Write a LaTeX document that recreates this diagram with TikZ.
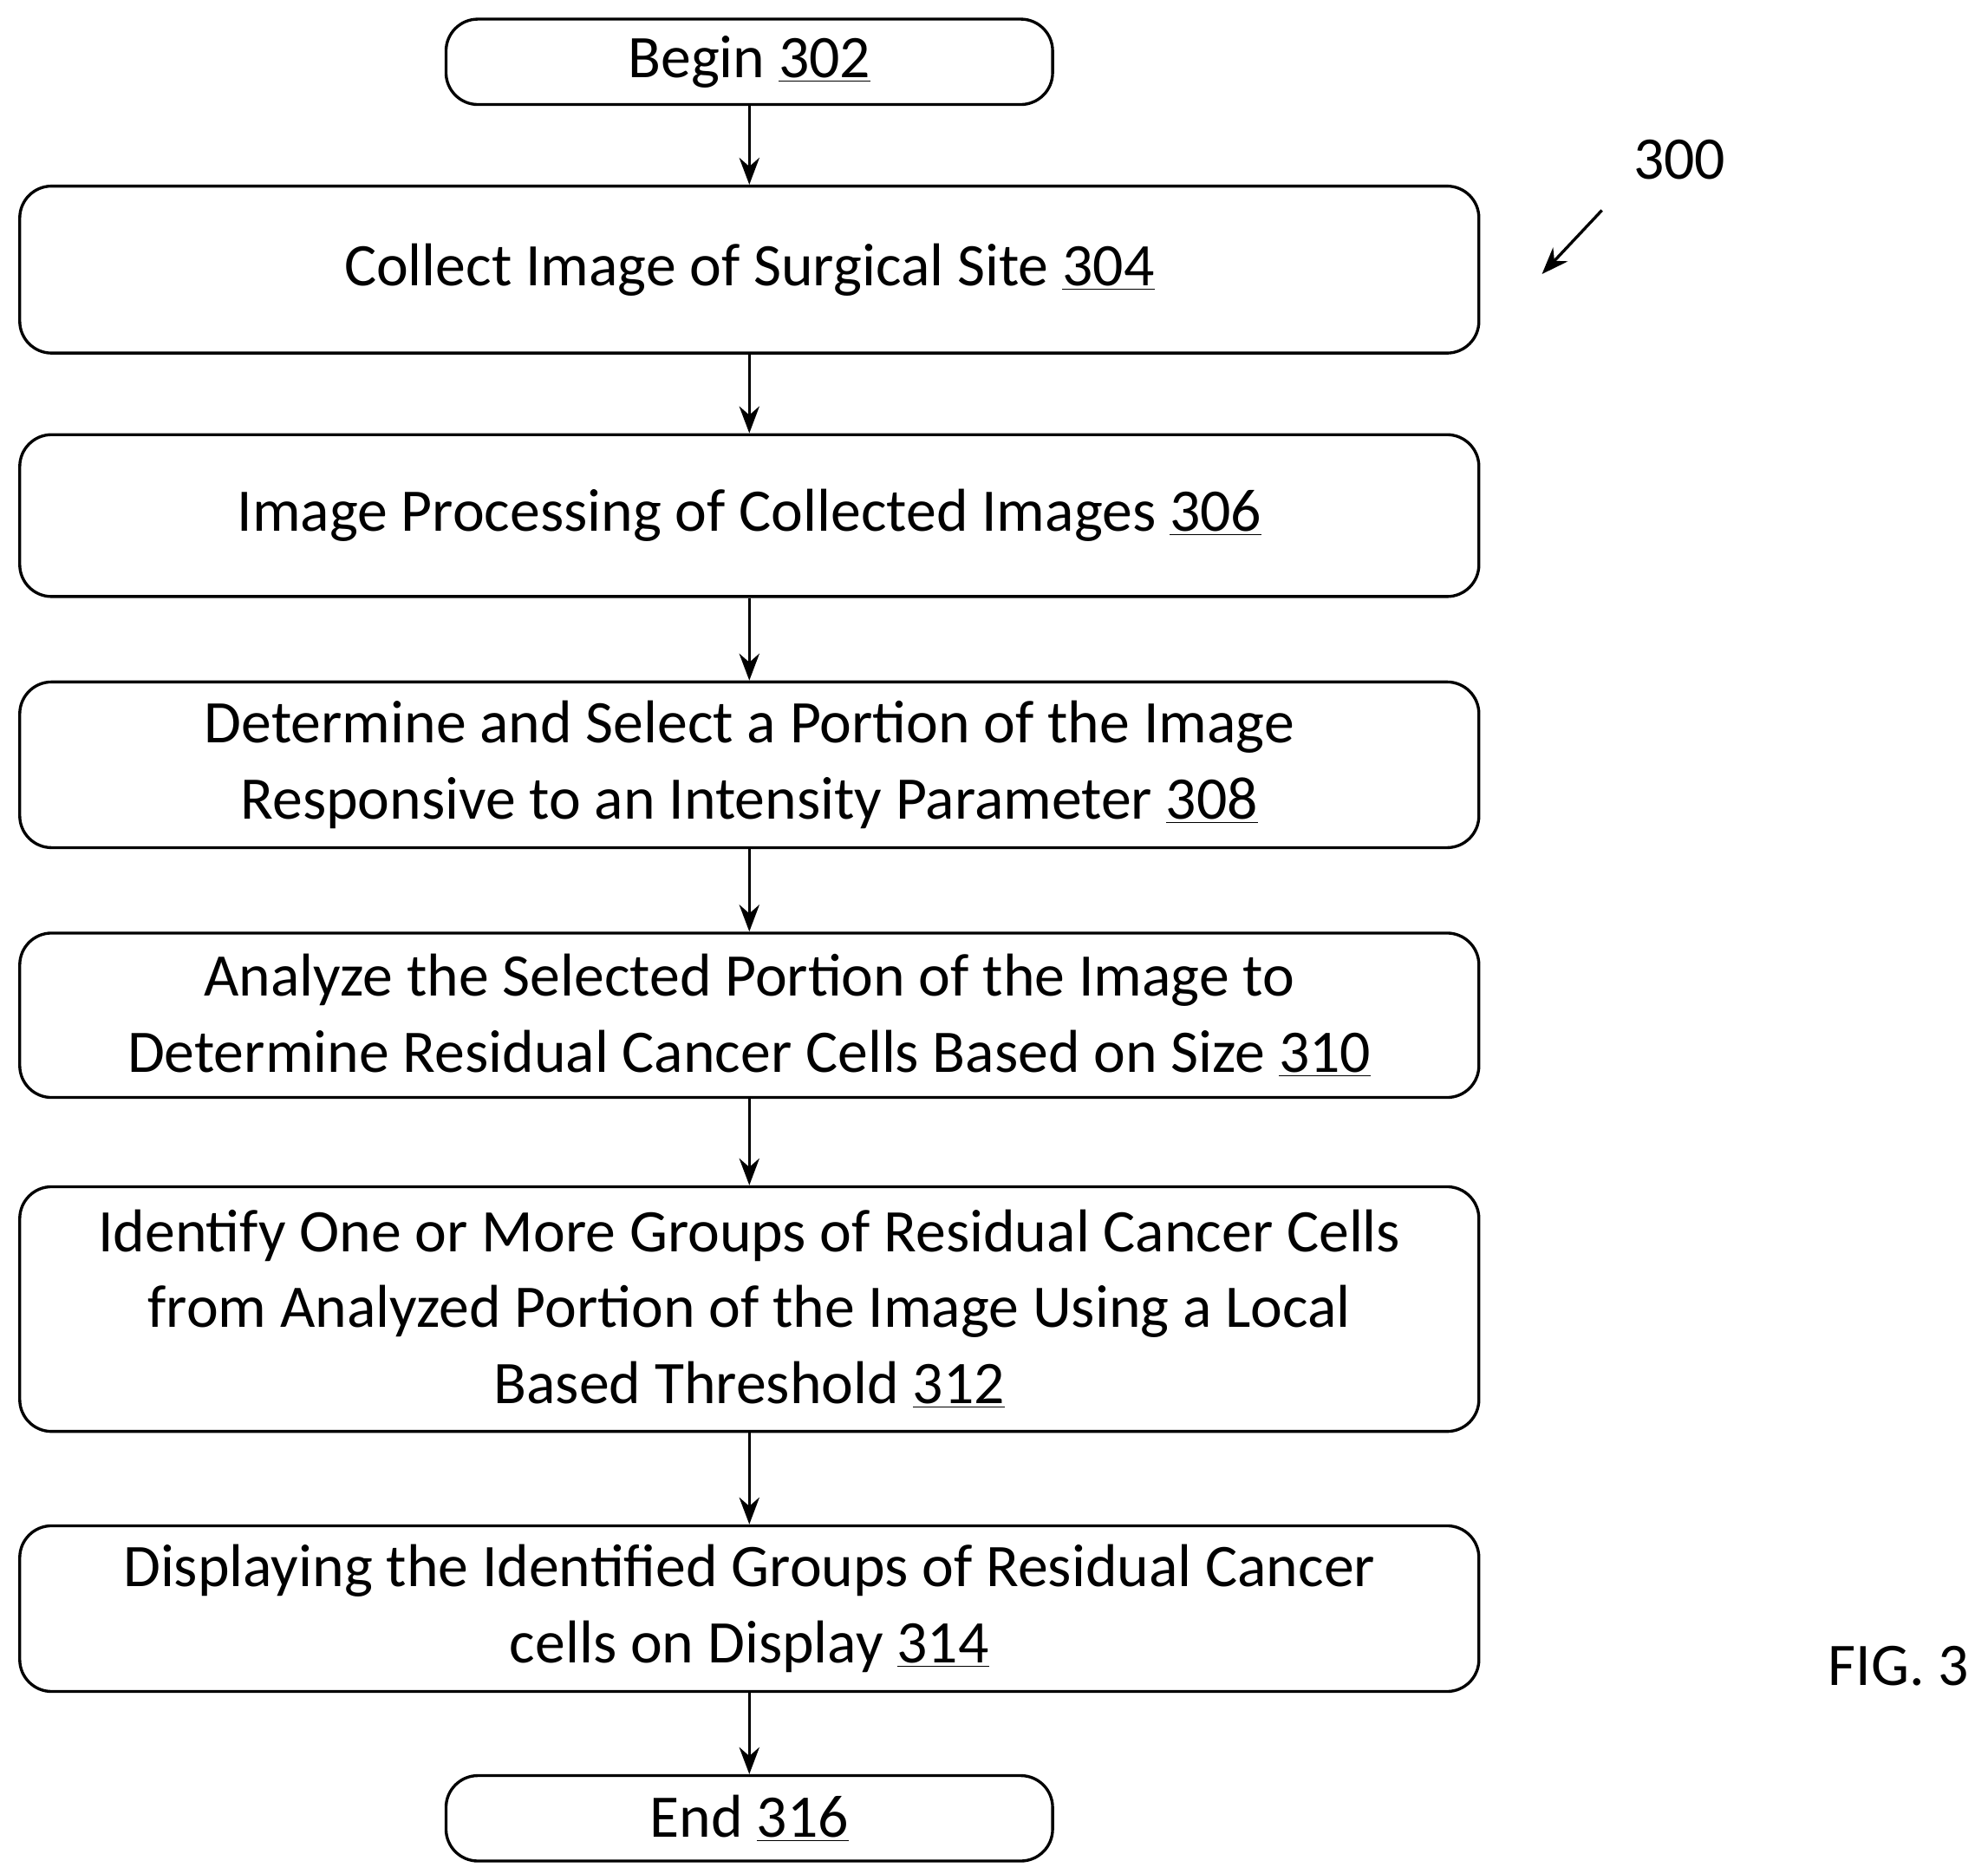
\documentclass[tikz,border=0pt]{standalone}
\usepackage{fontspec}
\setmainfont{Carlito}
\usetikzlibrary{arrows.meta}
\begin{document}
\begin{tikzpicture}[x=0.02cm,y=-0.02cm,
  box/.style={draw,line width=1.3pt,rounded corners=0.5cm,align=center,inner sep=0pt},
  txt/.style={font=\fontsize{27}{34}\selectfont},
  arr/.style={-{Stealth[length=12pt,width=9pt]},line width=1.3pt}]
\useasboundingbox (0,0) rectangle (1560,1470);
\newcommand{\mk}[5]{\node[box,txt,minimum width=#3*0.02cm,minimum height=#4*0.02cm] (#1) at (588,#2) {#5};}
\mk{b}{48.5}{476}{67}{Begin \underline{302}}
\mk{n4}{211.5}{1145}{131}{Collect Image of Surgical Site \underline{304}}
\mk{n6}{404.5}{1145}{127}{Image Processing of Collected Images \underline{306}}
\mk{n8}{600}{1145}{130}{Determine and Select a Portion of the Image\\Responsive to an Intensity Parameter \underline{308}}
\mk{n10}{796.5}{1145}{129}{Analyze the Selected Portion of the Image to\\Determine Residual Cancer Cells Based on Size \underline{310}}
\mk{n12}{1027}{1145}{192}{Identify One or More Groups of Residual Cancer Cells\\from Analyzed Portion of the Image Using a Local\\Based Threshold \underline{312}}
\mk{n14}{1262}{1145}{130}{Displaying the Identified Groups of Residual Cancer\\cells on Display \underline{314}}
\mk{e}{1426.5}{476}{67}{End \underline{316}}
\foreach \a/\b in {b/n4,n4/n6,n6/n8,n8/n10,n10/n12,n12/n14,n14/e}
  \draw[arr] (\a) -- (\b);
\node[txt] (l300) at (1318,125) {300};
\coordinate (p1) at (1257,165);
\coordinate (p2) at (1210,215);
\draw[arr] (p1) -- (p2);
\node[txt] (fig) at (1490,1307) {FIG. 3};
\end{tikzpicture}
\end{document}
